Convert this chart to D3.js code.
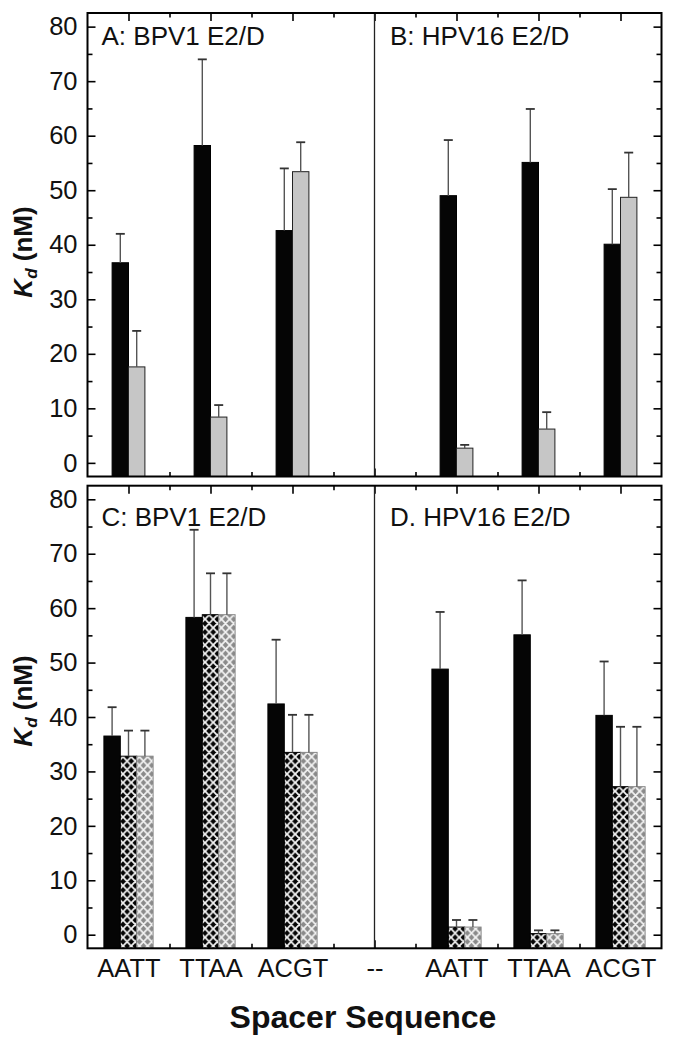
<!DOCTYPE html>
<html>
<head>
<meta charset="utf-8">
<script src="https://cdn.jsdelivr.net/npm/d3@7"></script>
<style>
  html, body { margin: 0; padding: 0; background: #fff; }
  svg { display: block; }
  text { font-family: "Liberation Sans", Arial, Helvetica, sans-serif; fill: #111; }
</style>
</head>
<body>
<svg id="chart" width="675" height="1048"></svg>
<script>
// ---------------- data ----------------
const categories = ["AATT", "TTAA", "ACGT", "--", "AATT", "TTAA", "ACGT"];
const yTicks = [0, 10, 20, 30, 40, 50, 60, 70, 80];
const yMinorTicks = [5, 15, 25, 35, 45, 55, 65, 75];

// Panel A: BPV1 E2/D (categories 0..2)
const aBlack    = [36.7, 58.2, 42.6];
const aBlackErr = [5.3, 15.8, 11.4];
const aGray     = [17.6, 8.4, 53.4];
const aGrayErr  = [6.6, 2.2, 5.4];

// Panel B: HPV16 E2/D (categories 4..6)
const bBlack    = [49.0, 55.1, 40.1];
const bBlackErr = [10.2, 9.8, 10.1];
const bGray     = [2.7, 6.2, 48.7];
const bGrayErr  = [0.6, 3.1, 8.2];

// Panel C: BPV1 E2/D
const cBlack         = [36.5, 58.3, 42.4];
const cBlackErr      = [5.3, 16.1, 11.8];
const cHatchBlack    = [32.8, 58.8, 33.5];
const cHatchBlackErr = [4.7, 7.6, 6.9];
const cHatchGray     = [32.8, 58.8, 33.5];
const cHatchGrayErr  = [4.7, 7.6, 6.9];

// Panel D: HPV16 E2/D
const dBlack         = [48.8, 55.1, 40.3];
const dBlackErr      = [10.5, 10.0, 9.9];
const dHatchBlack    = [1.4, 0.2, 27.2];
const dHatchBlackErr = [1.3, 0.6, 11.0];
const dHatchGray     = [1.4, 0.2, 27.2];
const dHatchGrayErr  = [1.3, 0.6, 11.0];

const leftIdx = [0, 1, 2];
const rightIdx = [4, 5, 6];

// ---------------- drawing ----------------
const svg = d3.select("#chart");
const defs = svg.append("defs");

function hatch(id, bg) {
  const w = 8.2, h = 8.6;
  const p = defs.append("pattern").attr("id", id)
    .attr("patternUnits", "userSpaceOnUse").attr("width", w).attr("height", h);
  p.append("rect").attr("width", w).attr("height", h).attr("fill", bg);
  p.append("path")
    .attr("d", `M0,0 L${w},${h} M${w},0 L0,${h} M${-w/2},${h/2} L0,${h} M${w/2},${-h/2} L${-w/2},${h/2} M${w},${h} L${w*1.5},${h/2} M${w/2},${h*1.5} L${w*1.5},${h/2}`)
    .attr("stroke", "#f4f4f4").attr("stroke-width", 1.8).attr("fill", "none");
}
hatch("hatchBlack", "#050505");
hatch("hatchGray", "#8a8a8a");

const plotLeft = 87.5, plotRight = 661.5;
const x = d3.scaleLinear().domain([-0.5, 6.5]).range([plotLeft, plotRight]);
const bw = 0.2; // bar width in category units

const panels = [
  { top: 13, bottom: 476.5, showX: false,
    leftLabel: "A: BPV1 E2/D", rightLabel: "B: HPV16 E2/D", labelBase: 45, titleY: 252,
    series: [
      { idx: leftIdx, vals: aBlack, errs: aBlackErr, off: -1, fill: "#050505", stroke: "#000" },
      { idx: leftIdx, vals: aGray, errs: aGrayErr, off: 0, fill: "#c6c6c6", stroke: "#222" },
      { idx: rightIdx, vals: bBlack, errs: bBlackErr, off: -1, fill: "#050505", stroke: "#000" },
      { idx: rightIdx, vals: bGray, errs: bGrayErr, off: 0, fill: "#c6c6c6", stroke: "#222" }
    ] },
  { top: 485.7, bottom: 948.3, showX: true,
    leftLabel: "C: BPV1 E2/D", rightLabel: "D. HPV16 E2/D", labelBase: 526, titleY: 701,
    series: [
      { idx: leftIdx, vals: cBlack, errs: cBlackErr, off: -1.5, fill: "#050505", stroke: "#000" },
      { idx: leftIdx, vals: cHatchBlack, errs: cHatchBlackErr, off: -0.5, fill: "url(#hatchBlack)", stroke: "#000" },
      { idx: leftIdx, vals: cHatchGray, errs: cHatchGrayErr, off: 0.5, fill: "url(#hatchGray)", stroke: "#888" },
      { idx: rightIdx, vals: dBlack, errs: dBlackErr, off: -1.5, fill: "#050505", stroke: "#000" },
      { idx: rightIdx, vals: dHatchBlack, errs: dHatchBlackErr, off: -0.5, fill: "url(#hatchBlack)", stroke: "#000" },
      { idx: rightIdx, vals: dHatchGray, errs: dHatchGrayErr, off: 0.5, fill: "url(#hatchGray)", stroke: "#888" }
    ] }
];

const catIdx = d3.range(categories.length);
const midIdx = d3.range(categories.length - 1).map(i => i + 0.5);

function styleAxis(g) {
  g.select(".domain").remove();
  g.selectAll(".tick line").attr("stroke", "#000").attr("stroke-width", 1.6);
  g.selectAll(".tick text").attr("font-size", 25.5).attr("fill", "#111");
}

panels.forEach(p => {
  const y = d3.scaleLinear().domain([-2.5, 82.5]).range([p.bottom, p.top]);
  const g = svg.append("g");

  // axes
  g.append("g").attr("transform", `translate(${plotLeft},0)`)
    .call(d3.axisLeft(y).tickValues(yTicks).tickSize(-8).tickPadding(10).tickFormat(d3.format("d")))
    .call(styleAxis);
  g.append("g").attr("transform", `translate(${plotLeft},0)`)
    .call(d3.axisLeft(y).tickValues(yMinorTicks).tickSize(-5).tickFormat(""))
    .call(styleAxis);
  g.append("g").attr("transform", `translate(${plotRight},0)`)
    .call(d3.axisRight(y).tickValues(yTicks).tickSize(-8).tickFormat(""))
    .call(styleAxis);
  g.append("g").attr("transform", `translate(${plotRight},0)`)
    .call(d3.axisRight(y).tickValues(yMinorTicks).tickSize(-5).tickFormat(""))
    .call(styleAxis);
  g.append("g").attr("transform", `translate(0,${p.top})`)
    .call(d3.axisTop(x).tickValues(catIdx).tickSize(-8).tickFormat(""))
    .call(styleAxis);
  g.append("g").attr("transform", `translate(0,${p.top})`)
    .call(d3.axisTop(x).tickValues(midIdx).tickSize(-4.5).tickFormat(""))
    .call(styleAxis);
  g.append("g").attr("transform", `translate(0,${p.bottom})`)
    .call(d3.axisBottom(x).tickValues(catIdx).tickSize(-8).tickPadding(11)
      .tickFormat(i => p.showX ? categories[i] : ""))
    .call(styleAxis);
  g.append("g").attr("transform", `translate(0,${p.bottom})`)
    .call(d3.axisBottom(x).tickValues(midIdx).tickSize(-4.5).tickFormat(""))
    .call(styleAxis);

  // divider
  g.append("line")
    .attr("x1", x(3)).attr("x2", x(3)).attr("y1", p.top).attr("y2", p.bottom)
    .attr("stroke", "#222").attr("stroke-width", 1.3);

  // bars
  const base = y.domain()[0];
  p.series.forEach(s => {
    const rows = s.idx.map((c, k) => ({ c, v: s.vals[k], e: s.errs[k] }));
    g.append("g").selectAll("rect").data(rows).join("rect")
      .attr("x", d => x(d.c + s.off * bw))
      .attr("width", d => x(d.c + (s.off + 1) * bw) - x(d.c + s.off * bw))
      .attr("y", d => y(d.v))
      .attr("height", d => y(base) - y(d.v))
      .attr("fill", s.fill)
      .attr("stroke", s.stroke).attr("stroke-width", 1);
    const eg = g.append("g");
    const cx = d => (x(d.c + s.off * bw) + x(d.c + (s.off + 1) * bw)) / 2;
    eg.selectAll("line.stem").data(rows).join("line").attr("class", "stem")
      .attr("x1", cx).attr("x2", cx)
      .attr("y1", d => y(d.v)).attr("y2", d => y(d.v + d.e))
      .attr("stroke", "#555").attr("stroke-width", 1.4);
    eg.selectAll("line.cap").data(rows).join("line").attr("class", "cap")
      .attr("x1", d => cx(d) - 4.5).attr("x2", d => cx(d) + 4.5)
      .attr("y1", d => y(d.v + d.e)).attr("y2", d => y(d.v + d.e))
      .attr("stroke", "#333").attr("stroke-width", 1.8);
  });

  // frame
  g.append("rect")
    .attr("x", plotLeft).attr("y", p.top)
    .attr("width", plotRight - plotLeft).attr("height", p.bottom - p.top)
    .attr("fill", "none").attr("stroke", "#000").attr("stroke-width", 2);

  // panel labels
  g.append("text").attr("x", plotLeft + 14).attr("y", p.labelBase)
    .attr("font-size", 26).text(p.leftLabel);
  g.append("text").attr("x", x(3) + 15.5).attr("y", p.labelBase)
    .attr("font-size", 26).text(p.rightLabel);

  // y title
  const t = g.append("text")
    .attr("transform", `translate(32,${p.titleY}) rotate(-90)`)
    .attr("text-anchor", "middle").attr("font-size", 26).attr("font-weight", "bold");
  t.append("tspan").attr("font-style", "italic").text("K");
  t.append("tspan").attr("font-style", "italic").attr("font-size", 17).attr("dy", 5).text("d");
  t.append("tspan").attr("dy", -5).text(" (nM)");
});

// x title
svg.append("text").attr("x", 363).attr("y", 1028)
  .attr("text-anchor", "middle").attr("font-size", 32).attr("font-weight", "bold")
  .text("Spacer Sequence");
</script>
</body>
</html>
